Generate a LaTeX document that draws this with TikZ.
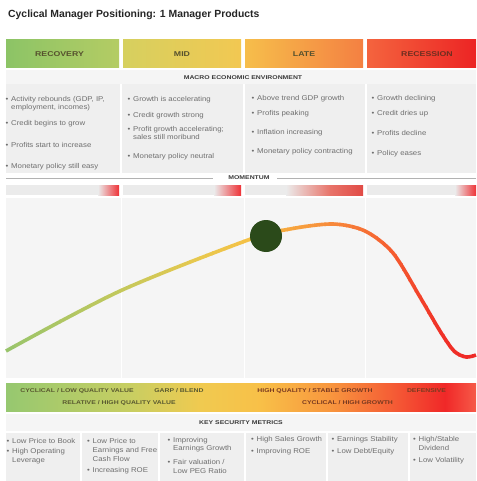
\documentclass[tikz,border=0pt]{standalone}
\usepackage{fontspec}
\setmainfont{Liberation Sans}
\newfontfamily\capsf[FakeStretch=1.25]{Liberation Sans}
\newfontfamily\bodyf[FakeStretch=1.12]{Liberation Sans}
\definecolor{txt}{HTML}{6E6E6E}
\definecolor{capt}{HTML}{3A3A3A}
\definecolor{hdrtxt}{HTML}{56512E}
\definecolor{hdrred}{HTML}{6E2E20}
\definecolor{bandtxt}{HTML}{5A5A30}
\definecolor{bandred}{HTML}{7A3A20}
\definecolor{pan}{HTML}{EFEFEF}
\definecolor{panlt}{HTML}{F5F5F5}
\definecolor{chartbg}{HTML}{F5F5F5}
\definecolor{mbg}{HTML}{EBEBEB}
\definecolor{dkgreen}{HTML}{2B4A1A}
% curve colour stops
\definecolor{c0}{RGB}{150,196,108}
\definecolor{c1}{RGB}{195,200,92}
\definecolor{c2}{RGB}{232,200,78}
\definecolor{c3}{RGB}{245,193,70}
\definecolor{c4}{RGB}{247,160,62}
\definecolor{c5}{RGB}{247,132,58}
\definecolor{c6}{RGB}{245,95,48}
\definecolor{c7}{RGB}{240,50,40}
\definecolor{c8}{RGB}{238,40,38}
% band colour stops
\definecolor{b0}{RGB}{150,200,112}
\definecolor{b1}{RGB}{200,206,98}
\definecolor{b2}{RGB}{240,202,80}
\definecolor{b3}{RGB}{248,192,72}
\definecolor{b4}{RGB}{248,150,62}
\definecolor{b5}{RGB}{244,85,52}
\definecolor{b6}{RGB}{240,40,40}
\definecolor{b7}{RGB}{246,90,72}
% header colours
\definecolor{h1l}{RGB}{140,196,102}
\definecolor{h1r}{RGB}{180,204,100}
\definecolor{h2l}{RGB}{214,208,95}
\definecolor{h2r}{RGB}{242,200,82}
\definecolor{h3l}{RGB}{246,190,75}
\definecolor{h3r}{RGB}{244,128,66}
\definecolor{h4l}{RGB}{244,100,62}
\definecolor{h4r}{RGB}{236,36,36}
\definecolor{mred}{RGB}{238,50,55}
\definecolor{mred2}{RGB}{232,115,105}
\definecolor{mred3}{RGB}{225,75,70}

\tikzset{
  bt/.style={anchor=west, inner sep=0, font=\bodyf\fontsize{7}{8}\selectfont, text=txt, text height=5, text depth=1.5},
  capl/.style={inner sep=0, font=\capsf\bfseries\fontsize{5.5}{6}\selectfont, text=capt},
  hdr/.style={inner sep=0, font=\capsf\bfseries\fontsize{7}{8}\selectfont, text=hdrtxt},
  bandl/.style={inner sep=0, font=\capsf\bfseries\fontsize{5.5}{6}\selectfont, text=bandtxt},
  curvestyle/.style={line width=3.6pt, line cap=butt},
}
\newcommand\itm[4]{%
  \node[bt] (#1b) at (#2-5.5,#3) {•};
  \node[bt] (#1) at (#2,#3) {#4};}

\def\curvepath{plot[smooth,tension=0.5] coordinates {(6,351) (120,291) (248,240) (290,229) (333,224) (365,231) (393,253) (420,297) (440,331) (454,351) (466,357) (476,355)}}

\begin{document}
\begin{tikzpicture}[x=1pt,y=-1pt]
\useasboundingbox (0,0) rectangle (476,481);
\fill[white] (0,0) rectangle (476,481);

% title
\node[anchor=west, inner sep=0, font=\bfseries\fontsize{10.4}{11}\selectfont, text=black!85] (title) at (8,15) {Cyclical Manager Positioning: 1 Manager Products};

% header band
\shade[left color=h1l, right color=h1r] (6,40) rectangle (119,68);
\shade[left color=h2l, right color=h2r] (123,40) rectangle (241,68);
\shade[left color=h3l, right color=h3r] (245,40) rectangle (363,68);
\shade[left color=h4l, right color=h4r] (367,40) rectangle (476,68);
\node[hdr] (hrec) at (59.5,54) {RECOVERY};
\node[hdr] (hmid) at (182,54) {MID};
\node[hdr] (hlate) at (304,54) {LATE};
\node[hdr, text=hdrred] (hrecs) at (427,54) {RECESSION};

% macro environment panels
\fill[panlt] (6,70) rectangle (476,84);
\fill[pan] (6,84) rectangle (120,173);
\fill[pan] (122,84) rectangle (243,173);
\fill[pan] (245,84) rectangle (365,173);
\fill[pan] (367,84) rectangle (476,173);
\node[capl] (macro) at (243,78) {MACRO ECONOMIC ENVIRONMENT};

% column 1
\itm{a1}{11}{100}{Activity rebounds (GDP, IP,}
\node[bt] (a1c) at (11,107.5) {employment, incomes)};
\itm{a2}{11}{124}{Credit begins to grow}
\itm{a3}{11}{146}{Profits start to increase}
\itm{a4}{11}{167}{Monetary policy still easy}
% column 2
\itm{b1}{133}{100}{Growth is accelerating}
\itm{b2}{133}{116}{Credit growth strong}
\itm{b3}{133}{129.5}{Profit growth accelerating;}
\node[bt] (b3c) at (133,137.5) {sales still moribund};
\itm{b4}{133}{157}{Monetary policy neutral}
% column 3
\itm{c1n}{257}{99}{Above trend GDP growth}
\itm{c2n}{257}{114}{Profits peaking}
\itm{c3n}{257}{133}{Inflation increasing}
\itm{c4n}{257}{152}{Monetary policy contracting}
% column 4
\itm{d1}{377}{99}{Growth declining}
\itm{d2}{377}{114}{Credit dries up}
\itm{d3}{377}{134}{Profits decline}
\itm{d4}{377}{154}{Policy eases}

% momentum divider
\node[capl] (mom) at (249,177.5) {MOMENTUM};
\coordinate (ml1) at (6,178);
\coordinate (ml2) at (213,178);
\coordinate (mr1) at (277,178);
\coordinate (mr2) at (476,178);
\draw[black!30, line width=0.6pt] (ml1) -- (ml2);
\draw[black!30, line width=0.6pt] (mr1) -- (mr2);

% momentum bars
\fill[mbg] (6,185) rectangle (119,195);
\fill[mbg] (123,185) rectangle (241,195);
\fill[mbg] (245,185) rectangle (363,195);
\fill[mbg] (367,185) rectangle (476,195);
\shade[left color=mbg, right color=mred] (98,185) rectangle (119,195);
\shade[left color=mbg, right color=mred] (214,185) rectangle (241,195);
\shade[left color=mbg, right color=mred2] (286,185) rectangle (330.5,195);
\shade[left color=mred2, right color=mred3] (330,185) rectangle (363,195);
\shade[left color=mbg, right color=mred] (455,185) rectangle (476,195);

% chart panels
\fill[chartbg] (6,198) rectangle (120.5,378);
\fill[chartbg] (121.5,198) rectangle (243.5,378);
\fill[chartbg] (244.5,198) rectangle (364.5,378);
\fill[chartbg] (365.5,198) rectangle (476,378);

% gradient curve drawn in vertical strips
\foreach \xa/\xb/\ca/\cb in {0/120/c0/c1, 120/200/c1/c2, 200/250/c2/c3, 250/300/c3/c4, 300/340/c4/c5, 340/390/c5/c6, 390/440/c6/c7, 440/477/c7/c8}{
  \foreach \i in {0,...,7}{
    \pgfmathsetmacro\xl{\xa+(\xb-\xa)*\i/8}
    \pgfmathsetmacro\xr{\xa+(\xb-\xa)*(\i+1)/8}
    \pgfmathtruncatemacro\p{100-(\i+0.5)*100/8}
    \begin{scope}
      \clip (\xl-0.4,200) rectangle (\xr+0.4,376);
      \draw[curvestyle, draw=\ca!\p!\cb] \curvepath;
    \end{scope}
  }
}
\node[circle, fill=dkgreen, minimum size=32pt, inner sep=0] (dot) at (266,236) {};

% style band
\shade[left color=b0, right color=b1] (6,383) rectangle (130.5,411);
\shade[left color=b1, right color=b2] (130,383) rectangle (200.5,411);
\shade[left color=b2, right color=b3] (200,383) rectangle (260.5,411);
\shade[left color=b3, right color=b4] (260,383) rectangle (330.5,411);
\shade[left color=b4, right color=b5] (330,383) rectangle (400.5,411);
\shade[left color=b5, right color=b6] (400,383) rectangle (445.5,411);
\shade[left color=b6, right color=b7] (445,383) rectangle (476,411);
\node[bandl] (s1) at (77,391) {CYCLICAL / LOW QUALITY VALUE};
\node[bandl] (s2) at (179,391) {GARP / BLEND};
\node[bandl, text=bandred] (s3) at (315,391) {HIGH QUALITY / STABLE GROWTH};
\node[bandl, text=bandred] (s4) at (426.5,391) {DEFENSIVE};
\node[bandl] (s5) at (119,403) {RELATIVE / HIGH QUALITY VALUE};
\node[bandl, text=bandred] (s6) at (347.5,403) {CYCLICAL / HIGH GROWTH};

% key security metrics
\fill[panlt] (6,414) rectangle (476,431);
\node[capl] (ksm) at (241,423) {KEY SECURITY METRICS};
\fill[pan] (6,433) rectangle (80,481);
\fill[pan] (82,433) rectangle (158,481);
\fill[pan] (160,433) rectangle (244,481);
\fill[pan] (246,433) rectangle (326,481);
\fill[pan] (328,433) rectangle (408,481);
\fill[pan] (410,433) rectangle (476,481);

\itm{k1}{12}{442}{Low Price to Book}
\itm{k2}{12}{452}{High Operating}
\node[bt] (k2c) at (12,461) {Leverage};
\itm{k3}{92.5}{442}{Low Price to}
\node[bt] (k3c) at (92.5,451) {Earnings and Free};
\node[bt] (k3d) at (92.5,460) {Cash Flow};
\itm{k4}{92.5}{471}{Increasing ROE}
\itm{k5}{173}{440.5}{Improving}
\node[bt] (k5c) at (173,449) {Earnings Growth};
\itm{k6}{173}{463}{Fair valuation /}
\node[bt] (k6c) at (173,471.5) {Low PEG Ratio};
\itm{k7}{256.5}{439.5}{High Sales Growth}
\itm{k8}{256.5}{452}{Improving ROE}
\itm{k9}{337}{439.5}{Earnings Stability}
\itm{k10}{337}{452}{Low Debt/Equity}
\itm{k11}{418.5}{440}{High/Stable}
\node[bt] (k11c) at (418.5,449) {Dividend};
\itm{k12}{418.5}{461}{Low Volatility}
\end{tikzpicture}
\end{document}
